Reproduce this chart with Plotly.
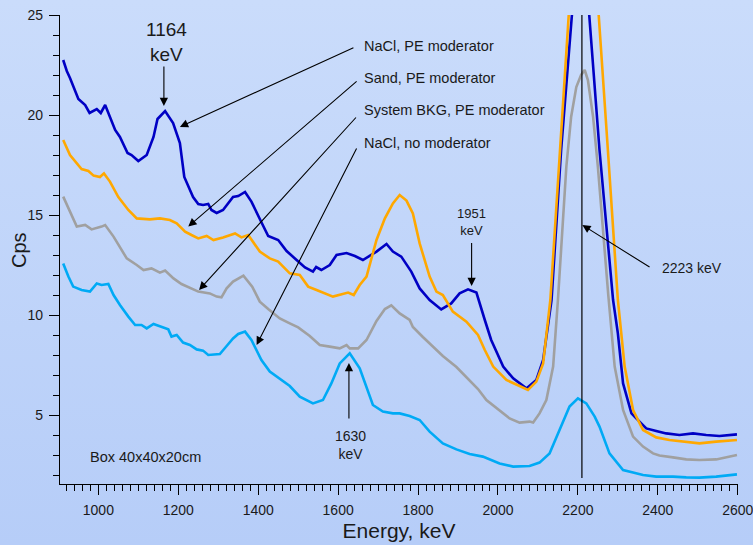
import base64
import plotly.graph_objects as go

# ---------------- data ----------------
e_nacl_pe = [912, 921, 929, 950, 967, 978, 996, 1006, 1017, 1042, 1054, 1073, 1083, 1100, 1121, 1138, 1148, 1167,
             1187, 1204, 1215, 1237, 1250, 1262, 1275, 1283, 1296, 1312, 1337, 1350, 1367, 1383, 1404, 1425, 1450,
             1471, 1496, 1517, 1537, 1545, 1558, 1579, 1596, 1621, 1642, 1662, 1696, 1721, 1737, 1758, 1783, 1804,
             1829, 1858, 1883, 1904, 1925, 1946, 1967, 1983, 2013, 2038, 2071, 2096, 2113, 2134, 2158, 2183, 2195,
             2205, 2215, 2228, 2254, 2288, 2300, 2313, 2334, 2346, 2371, 2396, 2421, 2454, 2488, 2521, 2554, 2598]
v_nacl_pe = [22.75, 22.2, 21.85, 20.8, 20.5, 20.1, 20.3, 20.1, 20.5, 19.25, 18.9, 18.1, 18.0, 17.7, 18.0, 18.9, 19.8,
             20.2, 19.6, 18.6, 16.9, 15.9, 15.55, 15.5, 15.55, 15.25, 15.1, 15.25, 15.9, 15.95, 16.15, 15.67, 14.8,
             13.95, 13.75, 13.2, 12.75, 12.38, 12.17, 12.4, 12.25, 12.5, 13.0, 13.1, 12.95, 12.75, 13.17, 13.55, 13.17,
             12.92, 12.17, 11.33, 10.75, 10.28, 10.58, 11.08, 11.28, 11.12, 9.75, 8.75, 7.42, 6.83, 6.33, 6.75, 7.75,
             10.75, 18.25, 25.0, 28.5, 30.0, 28.5, 25.0, 18.25, 10.75, 9.08, 6.58, 5.08, 4.83, 4.33, 4.2, 4.08, 4.0,
             4.08, 4.0, 3.95, 4.03]

e_sand_pe = [912, 929, 958, 975, 988, 1004, 1014, 1029, 1050, 1075, 1096, 1129, 1154, 1179, 1196, 1217, 1233, 1250,
             1271, 1288, 1312, 1342, 1358, 1375, 1404, 1429, 1450, 1479, 1504, 1525, 1546, 1587, 1625, 1639, 1654,
             1671, 1696, 1717, 1737, 1754, 1771, 1787, 1804, 1829, 1846, 1862, 1887, 1921, 1950, 1967, 1988, 2021,
             2054, 2075, 2096, 2113, 2131, 2156, 2177, 2190, 2205, 2220, 2240, 2252, 2275, 2300, 2317, 2338, 2363,
             2396, 2429, 2463, 2504, 2546, 2598]
v_sand_pe = [18.75, 18.0, 17.3, 17.2, 16.97, 16.9, 17.08, 16.67, 15.9, 15.25, 14.83, 14.78, 14.83, 14.75, 14.58, 14.17,
             14.0, 13.83, 13.95, 13.75, 13.88, 14.08, 13.88, 14.0, 13.17, 12.83, 12.67, 12.08, 12.0, 11.42, 11.25,
             10.92, 11.12, 11.0, 11.5, 11.92, 13.75, 14.83, 15.58, 16.0, 15.72, 15.08, 13.58, 11.92, 11.17, 11.0,
             10.17, 9.67, 9.0, 8.25, 7.42, 6.75, 6.45, 6.25, 6.67, 7.58, 10.75, 18.25, 25.0, 29.0, 31.0, 30.0, 27.5,
             25.0, 18.25, 10.75, 7.42, 5.25, 4.25, 3.88, 3.75, 3.67, 3.58, 3.67, 3.75]

e_bkg_pe = [912, 929, 946, 967, 983, 1008, 1017, 1038, 1071, 1096, 1113, 1133, 1154, 1167, 1188, 1208, 1233, 1250,
            1279, 1296, 1308, 1321, 1337, 1363, 1385, 1404, 1425, 1454, 1479, 1500, 1529, 1554, 1579, 1604, 1621,
            1629, 1650, 1671, 1696, 1717, 1733, 1754, 1779, 1787, 1812, 1838, 1862, 1896, 1929, 1950, 1971, 2004,
            2029, 2054, 2079, 2088, 2104, 2121, 2138, 2150, 2171, 2183, 2196, 2208, 2217, 2225, 2238, 2250, 2263,
            2276, 2292, 2313, 2338, 2363, 2388, 2404, 2438, 2471, 2504, 2546, 2598]
v_bkg_pe = [15.92, 15.17, 14.42, 14.5, 14.28, 14.42, 14.5, 13.92, 12.83, 12.5, 12.25, 12.33, 12.12, 12.22, 11.83,
            11.55, 11.33, 11.17, 11.08, 10.92, 10.88, 11.33, 11.67, 11.97, 11.42, 10.67, 10.3, 9.83, 9.58, 9.38,
            8.95, 8.5, 8.42, 8.33, 8.5, 8.33, 8.33, 8.75, 9.7, 10.3, 10.48, 10.08, 9.75, 9.4, 8.9, 8.4, 7.95, 7.4,
            6.75, 6.3, 5.75, 5.25, 4.83, 4.62, 4.67, 4.62, 5.08, 5.75, 7.42, 10.75, 17.4, 19.9, 21.4, 22.0, 22.25,
            21.75, 19.9, 17.4, 14.08, 11.0, 7.42, 5.25, 3.92, 3.42, 3.08, 2.97, 2.88, 2.78, 2.75, 2.78, 3.0]

e_nacl_nomod = [912, 925, 937, 958, 979, 996, 1008, 1025, 1038, 1054, 1075, 1092, 1108, 1121, 1138, 1158, 1175, 1183,
                1196, 1212, 1229, 1246, 1262, 1275, 1304, 1321, 1337, 1350, 1367, 1383, 1396, 1408, 1429, 1454, 1479,
                1504, 1537, 1562, 1583, 1604, 1629, 1654, 1671, 1687, 1712, 1737, 1754, 1779, 1804, 1829, 1862, 1896,
                1929, 1962, 2004, 2038, 2079, 2104, 2129, 2154, 2179, 2200, 2221, 2242, 2254, 2279, 2313, 2338, 2363,
                2396, 2438, 2471, 2504, 2546, 2598]
v_nacl_nomod = [12.58, 11.92, 11.42, 11.25, 11.17, 11.58, 11.5, 11.55, 11.0, 10.5, 9.92, 9.5, 9.5, 9.33, 9.55, 9.42,
                9.28, 8.92, 9.0, 8.62, 8.5, 8.28, 8.22, 8.0, 8.05, 8.45, 8.83, 9.05, 9.17, 8.75, 8.25, 7.75, 7.17,
                6.83, 6.45, 5.92, 5.58, 5.75, 6.58, 7.58, 8.08, 7.33, 6.42, 5.5, 5.17, 5.08, 5.08, 4.95, 4.75, 4.17,
                3.58, 3.28, 3.05, 2.92, 2.58, 2.42, 2.45, 2.62, 3.08, 4.25, 5.42, 5.83, 5.58, 4.92, 4.42, 3.08, 2.25,
                2.12, 2.0, 1.92, 1.92, 1.88, 1.87, 1.92, 2.03]

series_names = ["NaCl, PE moderator", "Sand, PE moderator", "System BKG, PE moderator", "NaCl, no moderator"]
series_colors = ["#0000c4", "#ffa800", "#a0a0a0", "#00aaf5"]

x_ticks = [1000, 1200, 1400, 1600, 1800, 2000, 2200, 2400, 2600]
y_ticks = [5, 10, 15, 20, 25]

# ---------------- figure ----------------
fig = go.Figure()
for xs, ys, nm, col in zip([e_nacl_pe, e_sand_pe, e_bkg_pe, e_nacl_nomod],
                           [v_nacl_pe, v_sand_pe, v_bkg_pe, v_nacl_nomod],
                           series_names, series_colors):
    fig.add_trace(go.Scatter(x=xs, y=ys, mode="lines", name=nm,
                             line=dict(color=col, width=2.6, shape="linear"),
                             showlegend=False))

FONT = "Liberation Sans, Arial, sans-serif"
TXT = "#1a1a1a"

# background gradient via svg image
svg = ('<svg xmlns="http://www.w3.org/2000/svg" width="10" height="100" preserveAspectRatio="none">'
       '<defs><linearGradient id="g" x1="0" y1="0" x2="0" y2="1">'
       '<stop offset="0" stop-color="#cadcfb"/><stop offset="1" stop-color="#b6cdf8"/>'
       '</linearGradient></defs><rect width="10" height="100" fill="url(#g)"/></svg>')
src = "data:image/svg+xml;base64," + base64.b64encode(svg.encode()).decode()
W, H = 753, 545
ML, MR, MT, MB = 60, 15, 15, 61
PW, PH = W - ML - MR, H - MT - MB
fig.add_layout_image(dict(source=src, xref="paper", yref="paper", x=-ML / PW, y=1 + MT / PH,
                          sizex=W / PW, sizey=H / PH, xanchor="left", yanchor="top",
                          sizing="stretch", layer="below", opacity=1))

# vertical reference line at the 2223 keV peak
fig.add_shape(type="line", x0=2210, x1=2210, y0=1.85, y1=25, xref="x", yref="y",
              line=dict(color="black", width=1.2))

def arrow(hx, hy, tx, ty):
    fig.add_annotation(x=hx, y=hy, ax=tx, ay=ty, xref="x", yref="y", axref="x", ayref="y",
                       text="", showarrow=True, arrowhead=2, arrowsize=1.5, arrowwidth=1.1,
                       arrowcolor="black", standoff=0, startstandoff=0)

def label(x, y, t, size=14.5, xanchor="left"):
    fig.add_annotation(x=x, y=y, xref="x", yref="y", text=t, showarrow=False,
                       xanchor=xanchor, yanchor="middle", align="center",
                       font=dict(family=FONT, size=size, color=TXT))

# legend-like labels with arrows
label(1660, 23.45, "NaCl, PE moderator")
label(1660, 21.83, "Sand, PE moderator")
label(1660, 20.25, "System BKG, PE moderator")
label(1660, 18.58, "NaCl, no moderator")
arrow(1204, 19.4, 1642, 23.4)
arrow(1225, 14.42, 1650, 21.75)
arrow(1252, 11.25, 1648, 19.95)
arrow(1396, 8.5, 1648, 18.4)

# peak annotations
label(1171, 23.65, "1164<br>keV", size=19, xanchor="center")
arrow(1164, 20.45, 1164, 22.5)
label(1934, 14.65, "1951<br>keV", size=13, xanchor="center")
arrow(1934, 11.45, 1934, 13.67)
label(1631, 3.5, "1630<br>keV", size=14, xanchor="center")
arrow(1627, 7.6, 1627, 4.75)
label(2406, 12.35, "2223 keV", size=14)
arrow(2211, 14.5, 2383, 12.35)
label(975, 2.9, "Box 40x40x20cm")

# y axis title placed as rotated text
fig.add_annotation(x=(19 - ML) / PW, y=1 - (250 - MT) / PH, xref="paper", yref="paper",
                   text="Cps", textangle=-90, showarrow=False, xanchor="center", yanchor="middle",
                   font=dict(family=FONT, size=20, color=TXT))

axis_common = dict(showline=True, linecolor="black", linewidth=1.3, ticks="outside", ticklen=10,
                   tickwidth=1.2, tickcolor="black", showgrid=False, zeroline=False,
                   automargin=False, ticklabeloverflow="allow",
                   tickfont=dict(family=FONT, size=14, color=TXT))

fig.update_xaxes(range=[904, 2600.6], tickvals=x_ticks, ticklabelstandoff=3,
                 minor=dict(dtick=20, tick0=0, ticks="outside", ticklen=6, tickwidth=1.1,
                            tickcolor="black", showgrid=False),
                 title=dict(text="Energy, keV", font=dict(family=FONT, size=21, color=TXT), standoff=6),
                 **axis_common)
fig.update_yaxes(range=[1.55, 25], tickvals=y_ticks, ticklabelstandoff=3,
                 minor=dict(dtick=1, tick0=0, ticks="outside", ticklen=6, tickwidth=1.1,
                            tickcolor="black", showgrid=False),
                 **axis_common)

fig.update_layout(width=W, height=H, margin=dict(l=ML, r=MR, t=MT, b=MB, pad=0),
                  paper_bgcolor="#c0d5f9", plot_bgcolor="rgba(0,0,0,0)",
                  font=dict(family=FONT, color=TXT), showlegend=False)

fig.write_html("out.html")
